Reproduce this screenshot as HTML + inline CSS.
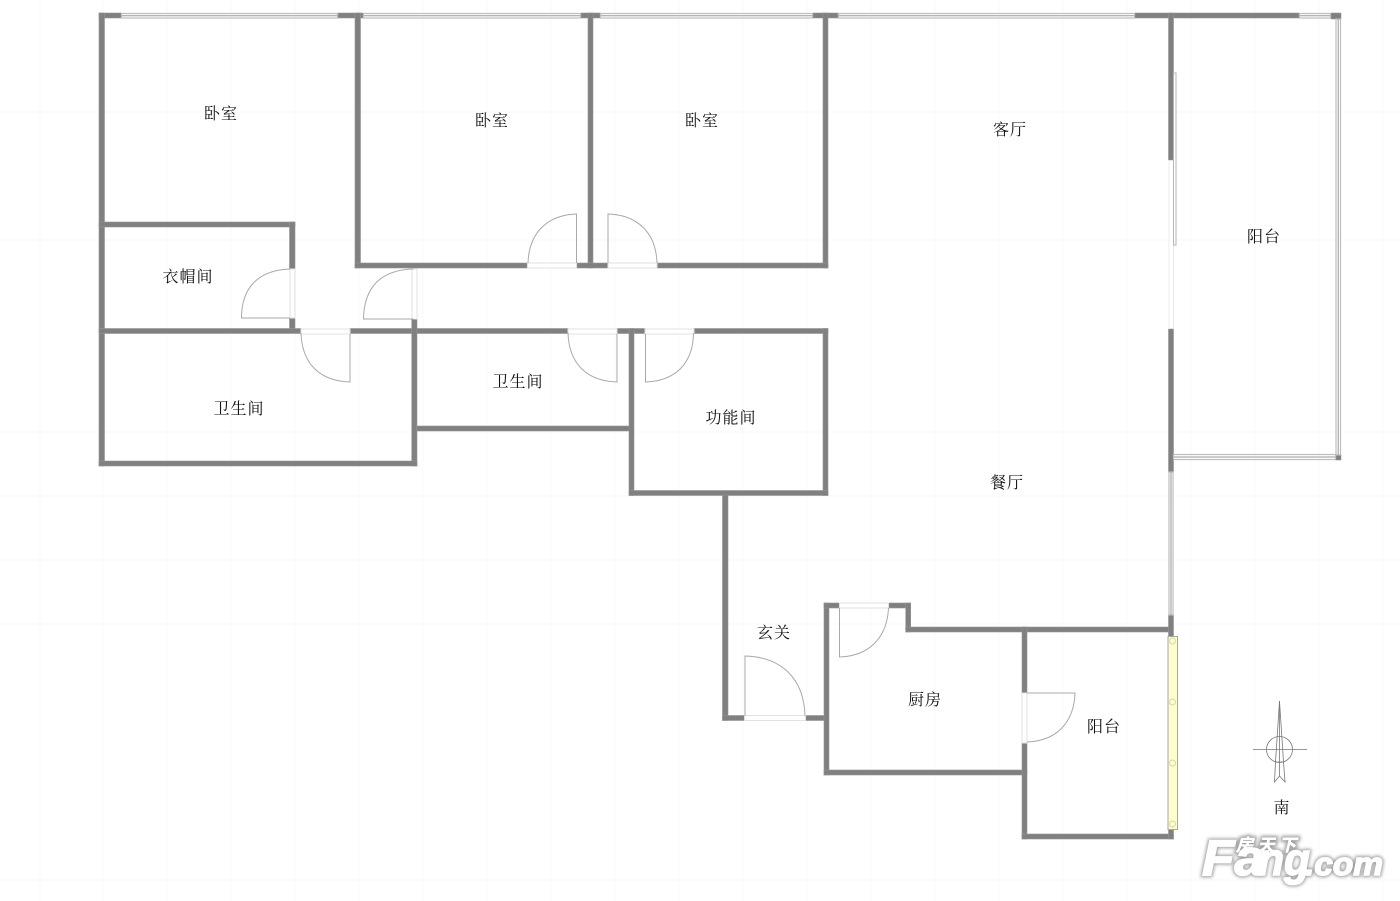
<!DOCTYPE html>
<html><head><meta charset="utf-8"><style>
html,body{margin:0;padding:0;background:#fff}
svg{display:block}
.w{fill:#808080;stroke:#969696;stroke-width:0.6}
.l{fill:none;stroke:#a9a9a9;stroke-width:1}
.o{fill:#fff;stroke:#e2e2e2;stroke-width:1}
.g{fill:#fff;stroke:#bdbdbd;stroke-width:1.2}
text.t{font-family:"Liberation Serif","Noto Serif CJK SC",serif;font-size:16px;letter-spacing:1px;fill:#111;text-anchor:middle;dominant-baseline:central}
</style></head><body>
<svg width="1400" height="901" viewBox="0 0 1400 901" xmlns="http://www.w3.org/2000/svg">
<rect width="1400" height="901" fill="#fff"/>
<g stroke="#fafafa" stroke-width="1">
<path d="M40 0V901M103 0V901M167 0V901M231 0V901M295 0V901M359 0V901M423 0V901M487 0V901M551 0V901M615 0V901M679 0V901M743 0V901M807 0V901M871 0V901M935 0V901M999 0V901M1063 0V901M1127 0V901M1191 0V901M1255 0V901M1319 0V901M1383 0V901"/>
<path d="M0 112H1400M0 240H1400M0 432H1400M0 496H1400M0 560H1400M0 624H1400M0 880H1400"/>
</g>

<!-- walls -->
<g class="w">
<rect x="99" y="13" width="22" height="5"/><rect x="338" y="13" width="25" height="5"/>
<rect x="581" y="13" width="19" height="5"/><rect x="813" y="13" width="25" height="5"/>
<rect x="1135" y="13" width="164" height="5"/><rect x="1331" y="13" width="10" height="6"/>
<rect x="99" y="13" width="5.500" height="453"/>
<rect x="355" y="13" width="5.500" height="255"/>
<rect x="588" y="13" width="5" height="255"/>
<rect x="823" y="13" width="5" height="255"/>
<rect x="1168.500" y="13" width="5" height="147"/>
<rect x="99" y="222" width="196" height="5"/>
<rect x="289.500" y="222" width="5.500" height="47"/>
<rect x="289.500" y="318" width="5.500" height="12"/>
<rect x="355" y="263" width="172" height="5"/>
<rect x="577" y="263" width="31" height="5"/>
<rect x="657" y="263" width="171" height="5"/>
<rect x="99" y="328.500" width="202" height="5"/>
<rect x="350" y="328.500" width="218" height="5"/>
<rect x="617" y="328.500" width="28" height="5"/>
<rect x="694" y="328.500" width="134" height="5"/>
<rect x="411.700" y="319" width="5.300" height="147"/>
<rect x="99" y="461" width="318" height="5"/>
<rect x="417" y="426" width="213" height="5"/>
<rect x="629" y="328.500" width="5" height="167"/>
<rect x="823" y="328.500" width="5" height="167"/>
<rect x="629" y="490.500" width="199" height="5"/>
<rect x="722.500" y="495" width="5.500" height="225.500"/>
<rect x="722.500" y="715.500" width="22" height="5"/>
<rect x="806" y="715.500" width="20" height="5"/>
<rect x="824" y="603" width="5" height="172"/>
<rect x="824" y="603" width="15" height="5"/>
<rect x="889" y="603" width="21.700" height="5"/>
<rect x="905.700" y="603" width="5" height="29"/>
<rect x="905.700" y="627" width="267" height="5"/>
<rect x="824" y="770" width="203" height="5"/>
<rect x="1022" y="627" width="5" height="66"/>
<rect x="1022" y="743" width="5" height="96"/>
<rect x="1022" y="834" width="151.500" height="5"/>
<rect x="1168.500" y="329" width="5" height="143"/>
<rect x="1168.500" y="615" width="5" height="22"/>
<rect x="1168.500" y="828" width="5" height="11"/>
<rect x="1335.500" y="455" width="5.500" height="5"/>
</g>

<!-- windows -->
<g class="g">
<rect x="121.500" y="13.500" width="216" height="4.500"/>
<rect x="363.500" y="13.500" width="217" height="4.500"/>
<rect x="600.500" y="13.500" width="212" height="4.500"/>
<rect x="838.500" y="13.500" width="296" height="4.500"/>
<rect x="1299.500" y="13.500" width="31" height="4.500"/>
<rect x="1336" y="19" width="4.500" height="436"/>
<rect x="1173.500" y="454.500" width="162" height="5"/>
<rect x="1169" y="472" width="4" height="143"/>
</g>
<path d="M122 15.700H337M364 15.700H580M601 15.700H812M839 15.700H1134M1300 15.700H1330M1338.200 19V455M1174 457H1335M1171 472V615" stroke="#9a9a9a" stroke-width="1" fill="none"/>
<path d="M1169 160V329" stroke="#eeeeee" stroke-width="1" fill="none"/>
<path d="M1173.500 160V329" stroke="#e8e8e8" stroke-width="1" fill="none"/>
<rect x="1173.500" y="73" width="2.500" height="172" fill="#fff" stroke="#b5b5b5" stroke-width="1"/>

<!-- door openings -->
<g class="o">
<rect x="290" y="269" width="5" height="49"/>
<rect x="412" y="269" width="5" height="50"/>
<rect x="301" y="329" width="49" height="5"/>
<rect x="527.500" y="263" width="49" height="5"/>
<rect x="608" y="263" width="49" height="5"/>
<rect x="568" y="329" width="49" height="5"/>
<rect x="645" y="329" width="49" height="5"/>
<rect x="744.500" y="715.500" width="61" height="5"/>
<rect x="839.500" y="603" width="49" height="5"/>
<rect x="1022" y="693" width="5" height="50"/>
</g>

<!-- door leaves -->
<g class="l">
<path d="M290 318H241.500C241.500 287 259 270 290 269"/>
<path d="M413 319H363.500C364 287 381 270 413 269"/>
<path d="M350 334V382C320 381 302 364 301 333"/>
<path d="M576.500 263V214C547 215 529 233 528 263"/>
<path d="M608 263V214C638 215 656 233 657 263"/>
<path d="M617 334V382C587 381 569 364 568 333"/>
<path d="M645.500 334V382C675 381 693 364 693.500 333"/>
<path d="M745 716V656C782 657 804 679 805 716"/>
<path d="M839.500 608V657C869 656 887 638 888.500 608"/>
<path d="M1027 693H1075C1074 723 1056 741 1027 742"/>
</g>

<!-- yellow door strip -->
<rect x="1168" y="636.500" width="9.500" height="193" fill="#fdfdd2" stroke="#a9a98f" stroke-width="1"/>
<g fill="none" stroke="#d5d8a8" stroke-width="1">
<circle cx="1172.500" cy="641" r="3"/><circle cx="1172.500" cy="702" r="3"/>
<circle cx="1172.500" cy="763" r="3"/><circle cx="1172.500" cy="824" r="3"/>
</g>

<!-- compass -->
<g fill="none" stroke="#777" stroke-width="0.800">
<circle cx="1279.500" cy="749.500" r="13"/>
<path d="M1253 749.500H1307"/>
<path d="M1279.500 701L1275.500 762L1274.500 782L1279.500 776L1285 782L1283.500 762Z"/>
<path d="M1279.500 701V776M1276 762H1283"/>
</g>

<!-- labels -->
<g transform="translate(0 1.500)">
<text class="t" x="221" y="113">卧室</text>
<text class="t" x="492" y="120">卧室</text>
<text class="t" x="702" y="120">卧室</text>
<text class="t" x="1010" y="129">客厅</text>
<text class="t" x="1264" y="236">阳台</text>
<text class="t" x="188" y="276">衣帽间</text>
<text class="t" x="239" y="408">卫生间</text>
<text class="t" x="518" y="381">卫生间</text>
<text class="t" x="731" y="417">功能间</text>
<text class="t" x="1007" y="482">餐厅</text>
<text class="t" x="774" y="632">玄关</text>
<text class="t" x="925" y="699">厨房</text>
<text class="t" x="1104" y="726">阳台</text>
<text class="t" x="1282" y="807">南</text>
</g>

<!-- watermark -->
<defs><filter id="b" x="-10%" y="-20%" width="120%" height="140%"><feGaussianBlur stdDeviation="1.500"/></filter></defs>
<g font-family="Liberation Sans,sans-serif" font-weight="bold" font-style="italic" text-anchor="start">
<g filter="url(#b)" fill="#a0a0a0" stroke="#a0a0a0" stroke-width="4">
<text x="1202" y="875" font-size="50" textLength="62" lengthAdjust="spacingAndGlyphs">Fa</text>
<text x="1258" y="875" font-size="45" textLength="52" lengthAdjust="spacingAndGlyphs">ng</text>
<text x="1305" y="875" font-size="32" textLength="78" lengthAdjust="spacingAndGlyphs">.com</text>
<text x="1236" y="851" font-size="17" font-family="Liberation Sans,Noto Sans CJK SC,sans-serif" textLength="60">房天下</text>
</g>
<g fill="#fff" stroke="#fff" stroke-width="1.500">
<text x="1202" y="875" font-size="50" textLength="62" lengthAdjust="spacingAndGlyphs">Fa</text>
<text x="1258" y="875" font-size="45" textLength="52" lengthAdjust="spacingAndGlyphs">ng</text>
<text x="1305" y="875" font-size="32" textLength="78" lengthAdjust="spacingAndGlyphs">.com</text>
<text x="1236" y="851" font-size="17" stroke-width="0.500" font-family="Liberation Sans,Noto Sans CJK SC,sans-serif" textLength="60">房天下</text>
</g>
</g>
</svg>
</body></html>
